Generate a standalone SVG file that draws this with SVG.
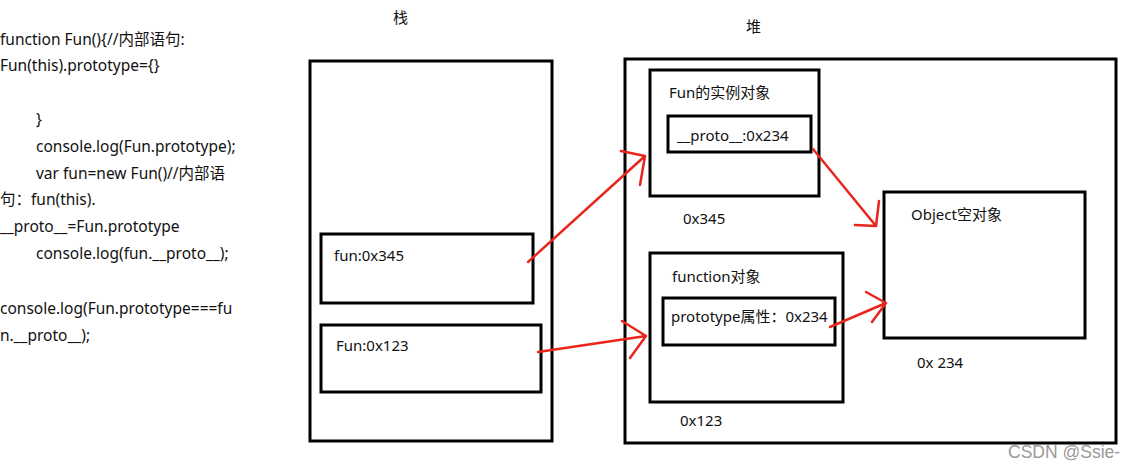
<svg xmlns="http://www.w3.org/2000/svg" width="1137" height="469" viewBox="0 0 1137 469">
<style>
text{font-family:"Noto Sans","Noto Sans CJK SC",sans-serif;font-size:15px;fill:#111}
#code text{font-size:15.5px}
.box{fill:#fff;stroke:#000;stroke-width:3}
.arr{fill:none;stroke:#e8261c;stroke-width:2.5;stroke-linecap:round;stroke-linejoin:round}
.wm{font-family:"Liberation Sans",sans-serif;font-size:17.5px;fill:#999}
</style>
<rect width="1137" height="469" fill="#fff"/>
<g id="code">
<text x="0" y="45">function Fun(){//内部语句:</text>
<text x="0" y="71">Fun(this).prototype={}</text>
<text x="36" y="125">}</text>
<text x="36" y="152">console.log(Fun.prototype);</text>
<text x="36" y="179">var fun=new Fun()//内部语</text>
<text x="0" y="205">句：fun(this).</text>
<text x="0" y="232">__proto__=Fun.prototype</text>
<text x="36" y="259">console.log(fun.__proto__);</text>
<text x="0" y="314">console.log(Fun.prototype===fu</text>
<text x="0" y="341">n.__proto__);</text>
</g>
<g id="stack">
<text x="393" y="23">栈</text>
<rect class="box" x="310" y="61" width="242" height="380"/>
</g>
<g id="heap">
<text x="746" y="32">堆</text>
<rect class="box" x="625" y="59" width="491" height="384"/>
</g>
<g id="funVar">
<rect class="box" x="321" y="234" width="212" height="69"/>
<text x="334" y="261">fun:0x345</text>
</g>
<g id="FunVar">
<rect class="box" x="321" y="325" width="220" height="67"/>
<text x="336" y="351">Fun:0x123</text>
</g>
<g id="instance">
<rect class="box" x="650" y="70" width="169" height="126"/>
<text x="669" y="98">Fun的实例对象</text>
<rect class="box" x="668" y="116" width="143" height="36"/>
<text x="677" y="141">__proto__:0x234</text>
<text x="683" y="224">0x345</text>
</g>
<g id="functionObj">
<rect class="box" x="650" y="253" width="193" height="149"/>
<text x="672" y="282">function对象</text>
<rect class="box" x="663" y="298" width="172" height="47"/>
<text x="671" y="322">prototype属性：0x234</text>
<text x="680" y="426">0x123</text>
</g>
<g id="objectObj">
<rect class="box" x="884" y="192" width="201" height="146"/>
<text x="911" y="220">Object空对象</text>
<text x="917" y="368">0x 234</text>
</g>
<g id="connectors">
<path class="arr" d="M528,262 L645,156 M621,151 L645,156 L640,185"/>
<path class="arr" d="M538,352 L646,336 M622,321 L646,336 L630,358"/>
<path class="arr" d="M813,149 L876,226 M855,225 L876,226 L879,201"/>
<path class="arr" d="M830,327 L886,303 M866,292 L886,303 L872,322"/>
</g>
<text class="wm" x="1008" y="458">CSDN @Ssie-</text>
</svg>
